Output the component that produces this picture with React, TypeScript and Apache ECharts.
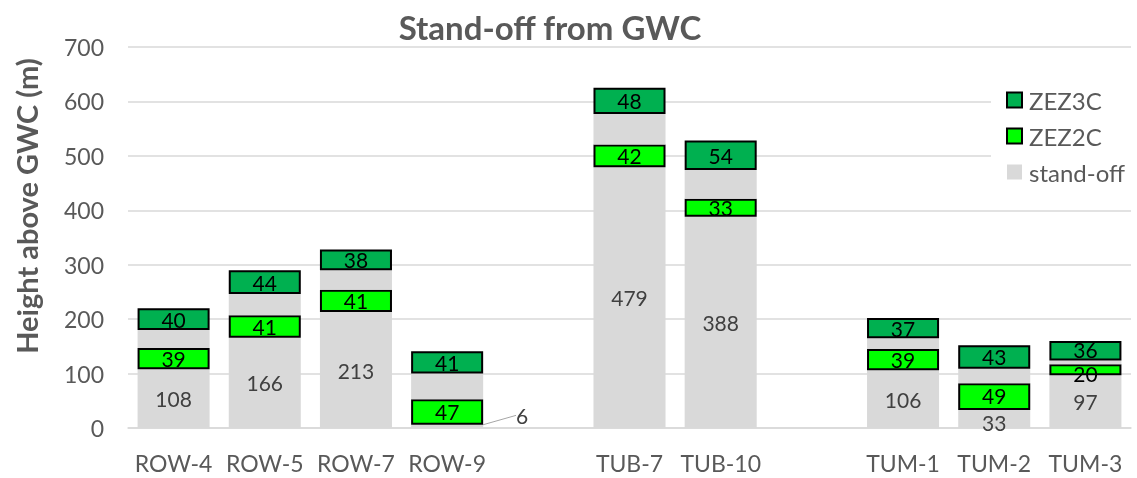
import React, { useEffect, useRef } from 'react';
import * as echarts from 'echarts';

const categories = ['ROW-4', 'ROW-5', 'ROW-7', 'ROW-9', '', 'TUB-7', 'TUB-10', '', 'TUM-1', 'TUM-2', 'TUM-3'];
const standOff = [108, 166, 213, 6, null, 479, 388, null, 106, 33, 97];
const zez2c = [39, 41, 41, 47, null, 42, 33, null, 39, 49, 20];
const gapBetween = [33, 39, 36, 47, null, 56, 53, null, 20, 27, 7];
const zez3c = [40, 44, 38, 41, null, 48, 54, null, 37, 43, 36];
const legendNames = ['ZEZ3C', 'ZEZ2C', 'stand-off'];

const FONT = 'Lato, "Open Sans", sans-serif';

export default function App() {
  const ref = useRef<HTMLDivElement>(null);
  useEffect(() => {
    const chart = echarts.init(ref.current!, null, { renderer: 'svg' });
    const outsideIdx = 3;
    const barLabel = (color: string) => ({
      show: true,
      position: 'inside',
      fontFamily: FONT,
      fontSize: 21,
      lineHeight: 17,
      color,
    });
    chart.setOption({
      animation: false,
      textStyle: { fontFamily: FONT },
      grid: { left: 128, right: 6, top: 47, bottom: 50, containLabel: false },
      legend: {
        data: legendNames,
        orient: 'vertical',
        left: 991,
        top: 83,
        padding: [5, 10, 5, 15],
        itemWidth: 15,
        itemHeight: 15,
        itemGap: 12,
        icon: 'rect',
        selectedMode: false,
        backgroundColor: '#ffffff',
        textStyle: { fontFamily: FONT, fontSize: 24, color: '#595959', padding: [0, 0, 0, 2] },
      },
      graphic: [
        {
          type: 'text',
          x: 550,
          y: 27,
          style: {
            text: 'Stand-off from GWC',
            font: `bold 33px ${FONT}`,
            fill: '#595959',
            textAlign: 'center',
            textVerticalAlign: 'middle',
          },
        },
        {
          type: 'text',
          x: 26,
          y: 206,
          rotation: Math.PI / 2,
          style: {
            text: 'Height above GWC (m)',
            font: `bold 29px ${FONT}`,
            fill: '#595959',
            textAlign: 'center',
            textVerticalAlign: 'middle',
          },
        },
      ],
      xAxis: {
        type: 'category',
        data: categories,
        axisTick: { show: false },
        axisLine: { lineStyle: { color: '#d9d9d9', width: 1.5 } },
        axisLabel: { fontFamily: FONT, fontSize: 23, color: '#595959', margin: 23, interval: 0 },
      },
      yAxis: {
        type: 'value',
        min: 0,
        max: 700,
        interval: 100,
        axisLine: { show: false },
        axisTick: { show: false },
        axisLabel: { fontFamily: FONT, fontSize: 23, color: '#595959', margin: 24 },
        splitLine: { lineStyle: { color: '#d9d9d9', width: 1.5 } },
      },
      series: [
        {
          name: 'stand-off',
          type: 'bar',
          stack: 'total',
          barCategoryGap: '21%',
          itemStyle: { color: '#d9d9d9' },
          label: barLabel('#404040'),
          labelLayout: (p: any) =>
            p.dataIndex === outsideIdx ? { dx: 75, dy: -11 } : p.dataIndex === 9 ? { dy: 3 } : {},
          data: standOff.map((v, i) =>
            i === outsideIdx
              ? { value: v, labelLine: { show: true, lineStyle: { color: '#a6a6a6', width: 1 } } }
              : v
          ),
        },
        {
          name: 'ZEZ2C',
          type: 'bar',
          stack: 'total',
          itemStyle: { color: '#00ff00', borderColor: '#000000', borderWidth: 2 },
          label: barLabel('#000000'),
          labelLayout: (p: any) => (p.dataIndex === 10 ? { dy: 4 } : p.dataIndex === 9 ? { dy: -1 } : {}),
          data: zez2c,
        },
        {
          name: 'gap',
          type: 'bar',
          stack: 'total',
          itemStyle: { color: '#d9d9d9' },
          label: { show: false },
          data: gapBetween,
        },
        {
          name: 'ZEZ3C',
          type: 'bar',
          stack: 'total',
          itemStyle: { color: '#00b050', borderColor: '#000000', borderWidth: 2 },
          label: barLabel('#000000'),
          labelLayout: (p: any) => (p.dataIndex === 10 ? { dy: -1 } : {}),
          data: zez3c,
        },
      ],
    });
    return () => chart.dispose();
  }, []);
  return <div ref={ref} style={{ position: 'fixed', left: 0, top: 0, width: 1137, height: 478 }} />;
}
